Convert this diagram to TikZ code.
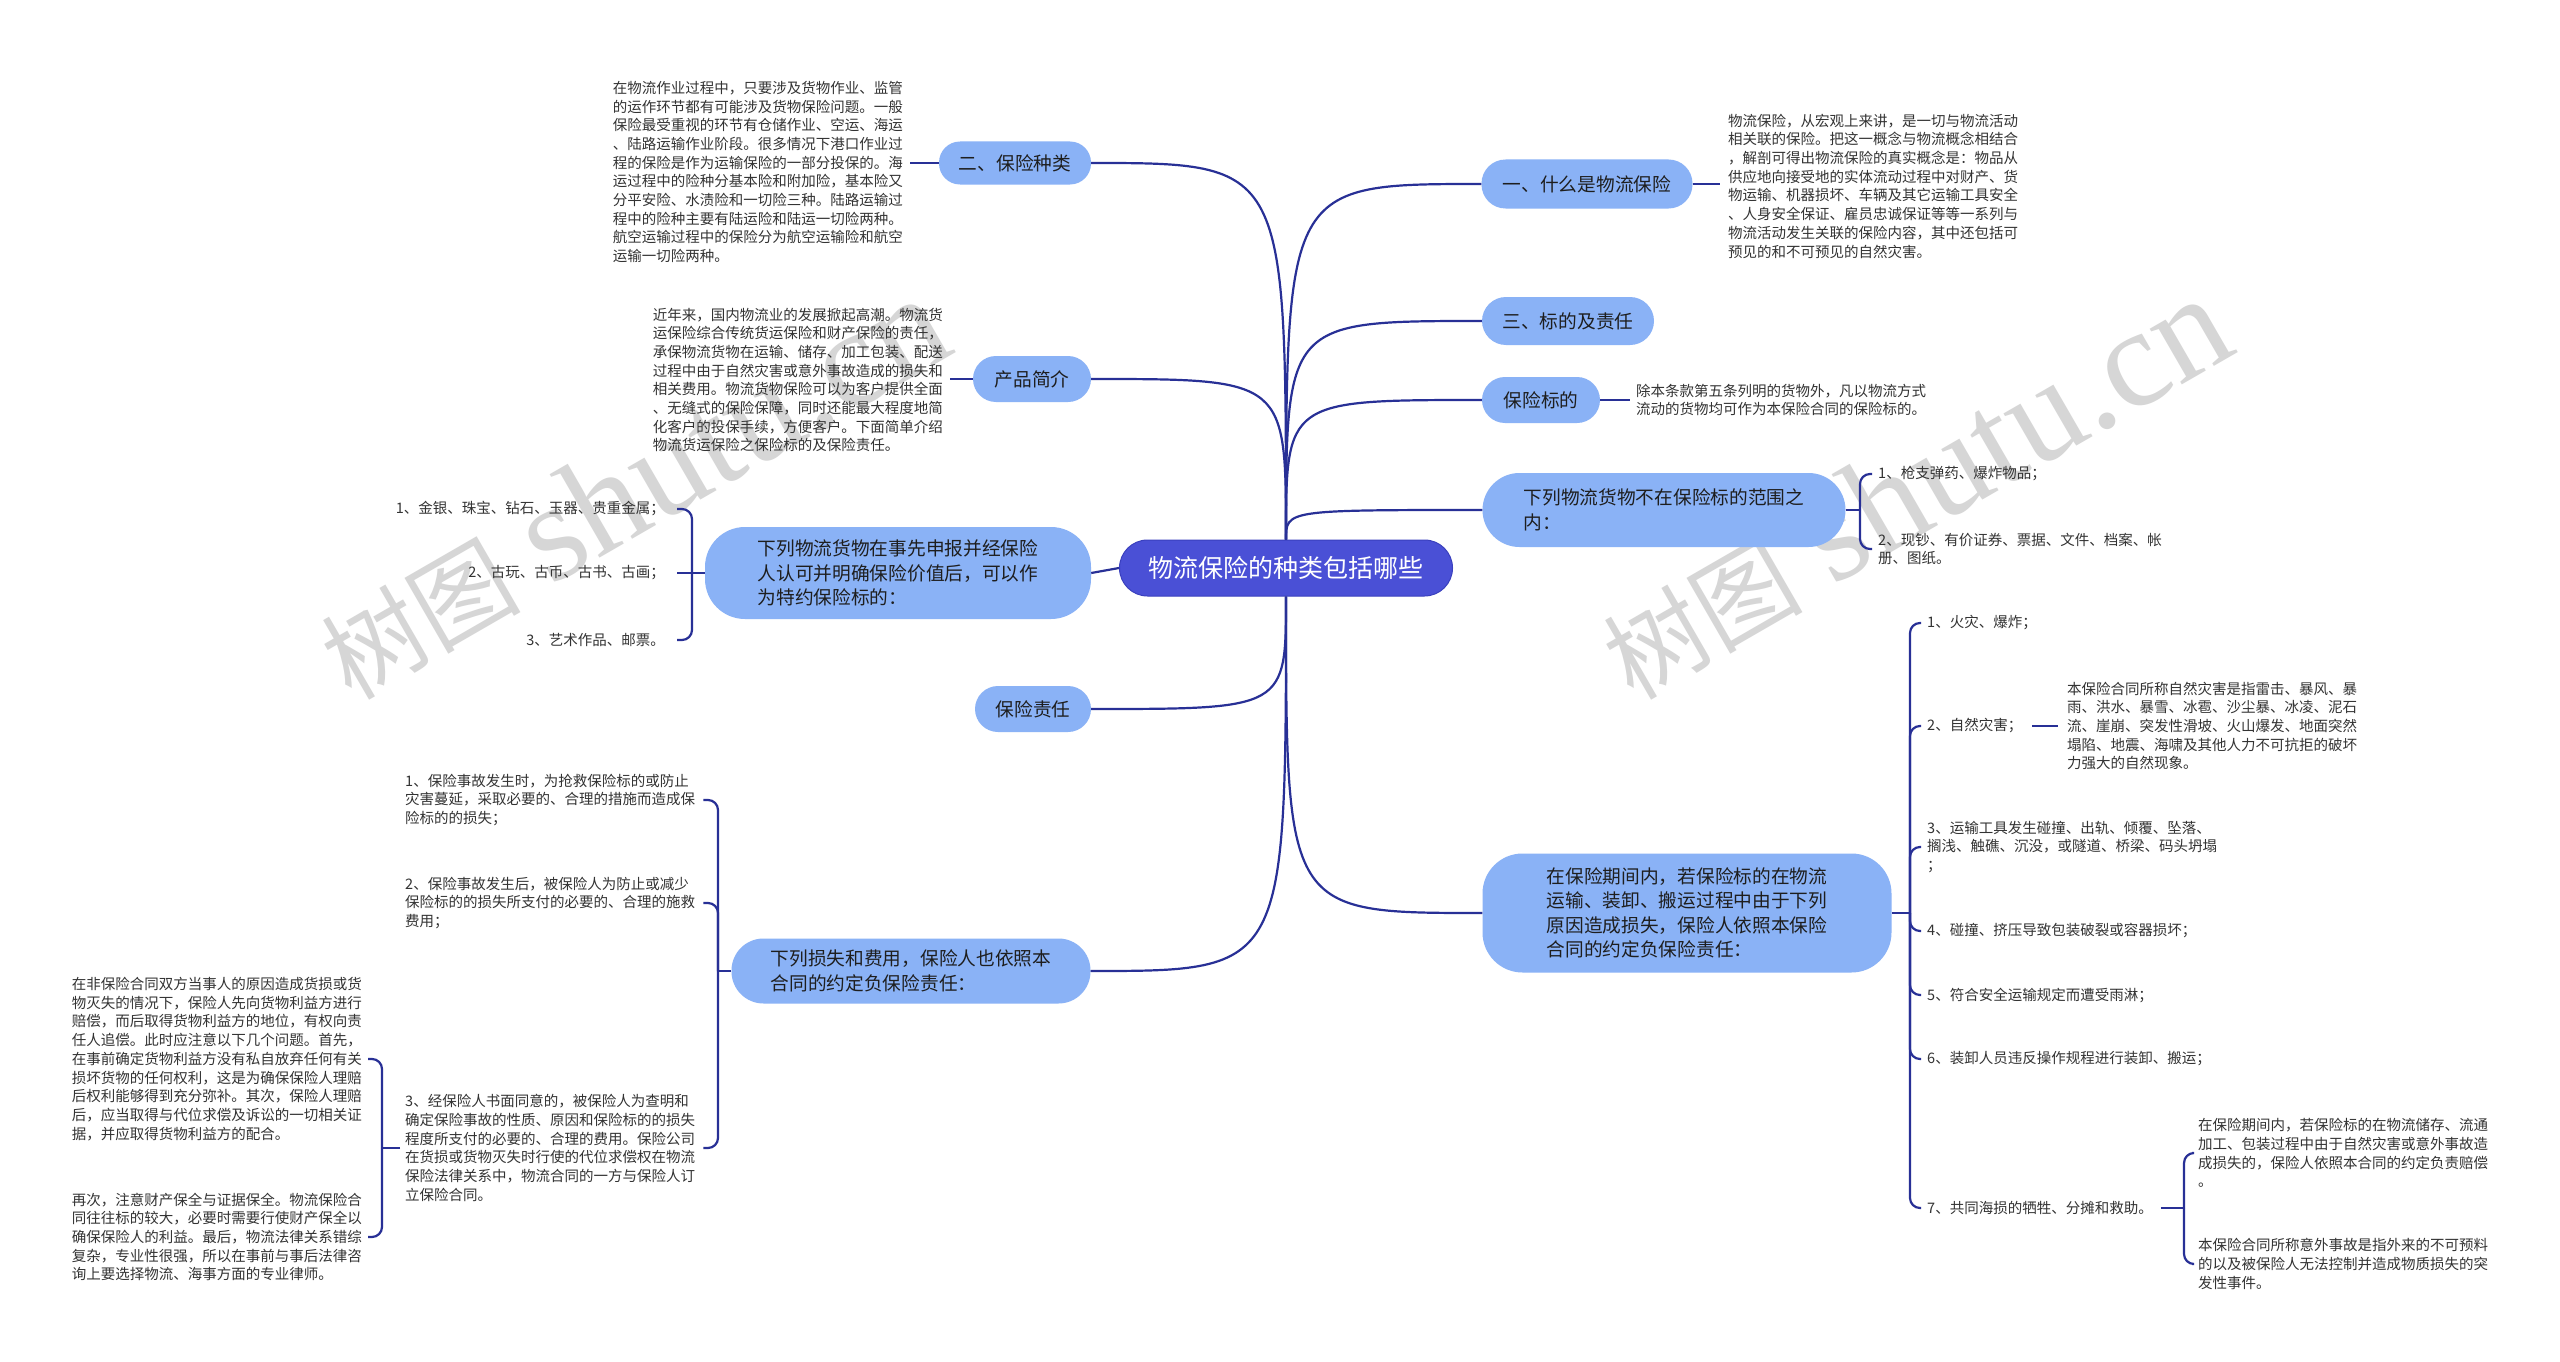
\documentclass[tikz,border=0pt]{standalone}
\usepackage{fontspec}
\newfontfamily\cjk{Noto Sans CJK SC}
\newfontfamily\wmlatin{Liberation Serif}
\definecolor{lnk}{RGB}{40,48,150}
\definecolor{rootfill}{RGB}{74,80,214}
\definecolor{rootdraw}{RGB}{58,64,190}
\definecolor{brfill}{RGB}{138,178,246}
\definecolor{brtext}{RGB}{30,30,30}
\definecolor{smtext}{RGB}{51,51,51}
\definecolor{wmgray}{RGB}{214,214,214}
\tikzset{
  link/.style={draw=lnk, line width=2.2pt},
  hook/.style={draw=lnk, line width=2.2pt, rounded corners=10pt},
  rootnode/.style={fill=rootfill, draw=rootdraw, line width=1pt, text=white, font=\cjk\fontsize{25}{30}\selectfont, minimum width=333pt, minimum height=56pt, rounded corners=28pt, inner sep=0pt},
  brnode/.style={fill=brfill, draw=none, text=brtext, font=\cjk\fontsize{18.7}{24.5}\selectfont, align=left, inner sep=0pt},
  small/.style={text=smtext, font=\cjk\fontsize{14.5}{18.7}\selectfont, align=left, inner sep=0pt},
  wm/.style={text=wmgray, font=\fontsize{100}{100}\selectfont, inner sep=0pt},
}
\begin{document}
\begin{tikzpicture}[x=1pt,y=-1pt]
\useasboundingbox (0,0) rectangle (2560,1362);
\fill[white] (0,0) rectangle (2560,1362);
% watermarks
\node[wm, anchor=base west, rotate=30] (wm1) at (351,702) {{\cjk 树图} {\wmlatin\fontsize{140}{140}\selectfont shutu.cn}};
\node[wm, anchor=base west, rotate=30] (wm2) at (1633,702) {{\cjk 树图} {\wmlatin\fontsize{140}{140}\selectfont shutu.cn}};

% root
\node[rootnode] (root) at (1286,568) {物流保险的种类包括哪些};

% right branches
\node[brnode, minimum width=211pt, minimum height=49pt, rounded corners=24pt] (n1) at (1587,184) {一、什么是物流保险};
\node[brnode, minimum width=172pt, minimum height=48pt, rounded corners=24pt] (n3) at (1568,321) {三、标的及责任};
\node[brnode, minimum width=118pt, minimum height=46pt, rounded corners=23pt] (nbd) at (1541,400) {保险标的};
\node[brnode, minimum width=363pt, minimum height=74pt, rounded corners=37pt] (nnot) at (1664,510) {下列物流货物不在保险标的范围之\\内：};
\node[brnode, minimum width=409pt, minimum height=119pt, rounded corners=40pt] (nper) at (1687,913) {在保险期间内，若保险标的在物流\\运输、装卸、搬运过程中由于下列\\原因造成损失，保险人依照本保险\\合同的约定负保险责任：};

% left branches
\node[brnode, minimum width=152pt, minimum height=43pt, rounded corners=21pt] (n2) at (1015,163) {二、保险种类};
\node[brnode, minimum width=118pt, minimum height=46pt, rounded corners=23pt] (nprod) at (1032,379) {产品简介};
\node[brnode, minimum width=386pt, minimum height=92pt, rounded corners=40pt] (nspec) at (898,573) {下列物流货物在事先申报并经保险\\人认可并明确保险价值后，可以作\\为特约保险标的：};
\node[brnode, minimum width=116pt, minimum height=46pt, rounded corners=23pt] (nresp) at (1033,709) {保险责任};
\node[brnode, minimum width=359pt, minimum height=65pt, rounded corners=32pt] (nloss) at (911,971) {下列损失和费用，保险人也依照本\\合同的约定负保险责任：};

% detail texts right
\node[small, anchor=west] (t1) at (1728,186) {物流保险，从宏观上来讲，是一切与物流活动\\相关联的保险。把这一概念与物流概念相结合\\，解剖可得出物流保险的真实概念是：物品从\\供应地向接受地的实体流动过程中对财产、货\\物运输、机器损坏、车辆及其它运输工具安全\\、人身安全保证、雇员忠诚保证等等一系列与\\物流活动发生关联的保险内容，其中还包括可\\预见的和不可预见的自然灾害。};
\node[small, anchor=west] (tbd) at (1636,400) {除本条款第五条列明的货物外，凡以物流方式\\流动的货物均可作为本保险合同的保险标的。};
\node[small, anchor=west] (nn1) at (1878,474) {1、枪支弹药、爆炸物品；};
\node[small, anchor=west] (nn2) at (1878,549) {2、现钞、有价证券、票据、文件、档案、帐\\册、图纸。};

\node[small, anchor=west] (np1) at (1927,623) {1、火灾、爆炸；};
\node[small, anchor=west] (np2) at (1927,726) {2、自然灾害；};
\node[small, anchor=west] (np2t) at (2067,726) {本保险合同所称自然灾害是指雷击、暴风、暴\\雨、洪水、暴雪、冰雹、沙尘暴、冰凌、泥石\\流、崖崩、突发性滑坡、火山爆发、地面突然\\塌陷、地震、海啸及其他人力不可抗拒的破坏\\力强大的自然现象。};
\node[small, anchor=west] (np3) at (1927,847) {3、运输工具发生碰撞、出轨、倾覆、坠落、\\搁浅、触礁、沉没，或隧道、桥梁、码头坍塌\\；};
\node[small, anchor=west] (np4) at (1927,931) {4、碰撞、挤压导致包装破裂或容器损坏；};
\node[small, anchor=west] (np5) at (1927,995) {5、符合安全运输规定而遭受雨淋；};
\node[small, anchor=west] (np6) at (1927,1059) {6、装卸人员违反操作规程进行装卸、搬运；};
\node[small, anchor=west] (np7) at (1927,1208) {7、共同海损的牺牲、分摊和救助。};
\node[small, anchor=west] (np7a) at (2198,1153) {在保险期间内，若保险标的在物流储存、流通\\加工、包装过程中由于自然灾害或意外事故造\\成损失的，保险人依照本合同的约定负责赔偿\\。};
\node[small, anchor=west] (np7b) at (2198,1264) {本保险合同所称意外事故是指外来的不可预料\\的以及被保险人无法控制并造成物质损失的突\\发性事件。};

% detail texts left
\node[small, anchor=east] (t2) at (903,172) {在物流作业过程中，只要涉及货物作业、监管\\的运作环节都有可能涉及货物保险问题。一般\\保险最受重视的环节有仓储作业、空运、海运\\、陆路运输作业阶段。很多情况下港口作业过\\程的保险是作为运输保险的一部分投保的。海\\运过程中的险种分基本险和附加险，基本险又\\分平安险、水渍险和一切险三种。陆路运输过\\程中的险种主要有陆运险和陆运一切险两种。\\航空运输过程中的保险分为航空运输险和航空\\运输一切险两种。};
\node[small, anchor=east] (tprod) at (943,380) {近年来，国内物流业的发展掀起高潮。物流货\\运保险综合传统货运保险和财产保险的责任，\\承保物流货物在运输、储存、加工包装、配送\\过程中由于自然灾害或意外事故造成的损失和\\相关费用。物流货物保险可以为客户提供全面\\、无缝式的保险保障，同时还能最大程度地简\\化客户的投保手续，方便客户。下面简单介绍\\物流货运保险之保险标的及保险责任。};
\node[small, anchor=east] (ns1) at (665,509) {1、金银、珠宝、钻石、玉器、贵重金属；};
\node[small, anchor=east] (ns2) at (665,573) {2、古玩、古币、古书、古画；};
\node[small, anchor=east] (ns3) at (665,640) {3、艺术作品、邮票。};

\node[small, anchor=west] (nl1) at (405,800) {1、保险事故发生时，为抢救保险标的或防止\\灾害蔓延，采取必要的、合理的措施而造成保\\险标的的损失；};
\node[small, anchor=west] (nl2) at (405,903) {2、保险事故发生后，被保险人为防止或减少\\保险标的的损失所支付的必要的、合理的施救\\费用；};
\node[small, anchor=west] (nl3) at (405,1148) {3、经保险人书面同意的，被保险人为查明和\\确定保险事故的性质、原因和保险标的的损失\\程度所支付的必要的、合理的费用。保险公司\\在货损或货物灭失时行使的代位求偿权在物流\\保险法律关系中，物流合同的一方与保险人订\\立保险合同。};
\node[small, anchor=east] (nl3a) at (362,1059) {在非保险合同双方当事人的原因造成货损或货\\物灭失的情况下，保险人先向货物利益方进行\\赔偿，而后取得货物利益方的地位，有权向责\\任人追偿。此时应注意以下几个问题。首先，\\在事前确定货物利益方没有私自放弃任何有关\\损坏货物的任何权利，这是为确保保险人理赔\\后权利能够得到充分弥补。其次，保险人理赔\\后，应当取得与代位求偿及诉讼的一切相关证\\据，并应取得货物利益方的配合。};
\node[small, anchor=east] (nl3b) at (362,1237) {再次，注意财产保全与证据保全。物流保险合\\同往往标的较大，必要时需要行使财产保全以\\确保保险人的利益。最后，物流法律关系错综\\复杂，专业性很强，所以在事前与事后法律咨\\询上要选择物流、海事方面的专业律师。};

% junction coordinates
\coordinate (jnot) at (1860,510);
\coordinate (jper) at (1910,913);
\coordinate (jp7) at (2184,1208);
\coordinate (jspec) at (692,573);
\coordinate (jloss) at (718,971);
\coordinate (jl3) at (382,1148);

% root connectors
\draw[link] (root.north) .. controls (root.north |- n1.west) .. (n1.west);
\draw[link] (root.north) .. controls (root.north |- n3.west) .. (n3.west);
\draw[link] (root.north) .. controls (root.north |- nbd.west) .. (nbd.west);
\draw[link] (root.north) .. controls (root.north |- nnot.west) .. (nnot.west);
\draw[link] (root.south) .. controls (root.south |- nper.west) .. (nper.west);
\draw[link] (root.north) .. controls (root.north |- n2.east) .. (n2.east);
\draw[link] (root.north) .. controls (root.north |- nprod.east) .. (nprod.east);
\draw[link] (root.west) -- (nspec.east);
\draw[link] (root.south) .. controls (root.south |- nresp.east) .. (nresp.east);
\draw[link] (root.south) .. controls (root.south |- nloss.east) .. (nloss.east);

% detail connectors
\draw[link, shorten >=8pt] (n1.east) -- (n1.east -| t1.west);
\draw[link, shorten >=6pt] (nbd.east) -- (nbd.east -| tbd.west);
\draw[link, shorten >=7pt] (n2.west) -- (n2.west -| t2.east);
\draw[link, shorten >=7pt] (nprod.west) -- (nprod.west -| tprod.east);
\draw[link, shorten <=10pt, shorten >=9pt] (np2.east) -- (np2.east -| np2t.west);

% braces
\draw[link] (nnot.east) -- (jnot);
\draw[hook, shorten >=6pt] (jnot) -- (jnot |- nn1.west) -- (nn1.west);
\draw[hook, shorten >=6pt] (jnot) -- (jnot |- nn2.west) -- (nn2.west);

\draw[link] (nper.east) -- (jper);
\foreach \c in {np1,np2,np3,np4,np5,np6,np7}
  \draw[hook, shorten >=6pt] (jper) -- (jper |- \c.west) -- (\c.west);

\draw[link, shorten <=8pt] (np7.east) -- (jp7);
\draw[hook, shorten >=6pt] (jp7) -- (jp7 |- np7a.west) -- (np7a.west);
\draw[hook, shorten >=6pt] (jp7) -- (jp7 |- np7b.west) -- (np7b.west);

\draw[link] (nspec.west) -- (jspec);
\draw[hook, shorten >=12pt] (jspec) -- (jspec |- ns1.east) -- (ns1.east);
\draw[link, shorten >=12pt] (jspec) -- (ns2.east);
\draw[hook, shorten >=12pt] (jspec) -- (jspec |- ns3.east) -- (ns3.east);

\draw[link] (nloss.west) -- (jloss);
\draw[hook, shorten >=8pt] (jloss) -- (jloss |- nl1.east) -- (nl1.east);
\draw[hook, shorten >=8pt] (jloss) -- (jloss |- nl2.east) -- (nl2.east);
\draw[hook, shorten >=8pt] (jloss) -- (jloss |- nl3.east) -- (nl3.east);

\draw[link, shorten <=5pt] (nl3.west) -- (jl3);
\draw[hook, shorten >=6pt] (jl3) -- (jl3 |- nl3a.east) -- (nl3a.east);
\draw[hook, shorten >=6pt] (jl3) -- (jl3 |- nl3b.east) -- (nl3b.east);
\end{tikzpicture}
\end{document}
